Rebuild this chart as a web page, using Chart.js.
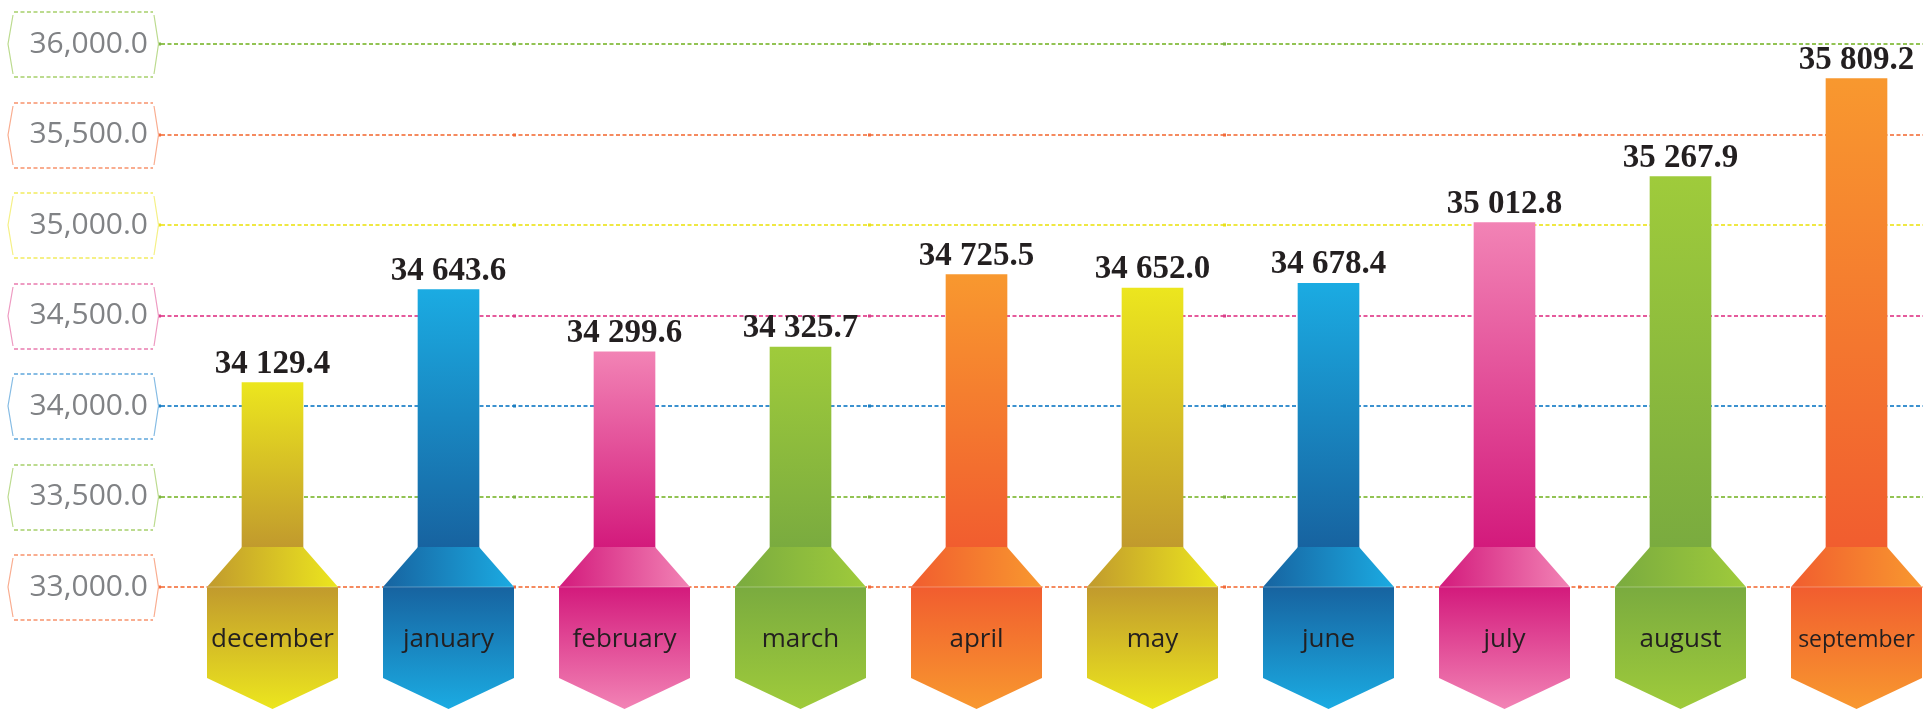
<!DOCTYPE html>
<html>
<head>
<meta charset="utf-8">
<script src="https://cdn.jsdelivr.net/npm/chart.js@4.4.1/dist/chart.umd.min.js"></script>
<style>
html, body { margin: 0; padding: 0; background: #fff; }
</style>
</head>
<body>
<canvas id="chart" width="1923" height="710"></canvas>
<script>
const months = ['december', 'january', 'february', 'march', 'april', 'may', 'june', 'july', 'august', 'september'];
const values = [34129.4, 34643.6, 34299.6, 34325.7, 34725.5, 34652.0, 34678.4, 35012.8, 35267.9, 35809.2];
const yTicks = [33000, 33500, 34000, 34500, 35000, 35500, 36000];
const yTickLabels = ['33,000.0', '33,500.0', '34,000.0', '34,500.0', '35,000.0', '35,500.0', '36,000.0'];

// light / dark for each bar colour
const palette = {
    yellow: ['#ece61e', '#c19a2d'],
    blue: ['#1babe2', '#1763a0'],
    pink: ['#f283b5', '#d31a7c'],
    green: ['#9fcb3b', '#7aab3f'],
    orange: ['#f8982f', '#f15d2f']
}
const barColors = ['yellow', 'blue', 'pink', 'green', 'orange', 'yellow', 'blue', 'pink', 'green', 'orange'];

// gridline, dot, box outline (same order as yTicks)
const gridStyles = [
    ['#f58a5f', '#f26a3a', '#f9ad90'],
    ['#92c353', '#7cb342', '#bcdb8f'],
    ['#3b91cf', '#1a7dc0', '#86bce4'],
    ['#e55a9c', '#d93e8a', '#ee9bc2'],
    ['#efe843', '#e8e01a', '#f5f086'],
    ['#f58a5f', '#f26a3a', '#f9ad90'],
    ['#92c353', '#7cb342', '#bcdb8f']
]

function valueText(v) {
    return Math.floor(v / 1000) + ' ' + (v % 1000).toFixed(1).padStart(5, '0')
}

function stemGradient(c) {
    const chart = c.chart
    if (!chart.chartArea || c.dataIndex === undefined) return '#ccc'
    const ys = chart.scales.y
    const top = ys.getPixelForValue(values[c.dataIndex])
    const bottom = ys.getPixelForValue(yTicks[0]) - 40
    const col = palette[barColors[c.dataIndex]]
    const g = chart.ctx.createLinearGradient(0, top, 0, bottom)
    g.addColorStop(0, col[0])
    g.addColorStop(1, col[1])
    return g
}

const decor = {
    id: 'decor',
    beforeDatasetsDraw(chart) {
        const c = chart.ctx
        const ys = chart.scales.y
        yTicks.forEach((v, i) => {
            const y = Math.round(ys.getPixelForValue(v))
            const st = gridStyles[i]
            c.save()
            c.strokeStyle = st[0]
            c.lineWidth = 2
            c.setLineDash([4, 2.5])
            c.beginPath()
            c.moveTo(161, y)
            c.lineTo(chart.width, y)
            c.stroke()
            c.setLineDash([])
            c.fillStyle = st[1];
            [158, 513, 868, 1223, 1578].forEach(x => c.fillRect(x, y - 1.5, 3, 3))
            // box round the tick label
            c.strokeStyle = st[2]
            c.lineWidth = 2
            c.setLineDash([4, 2.5])
            c.beginPath()
            c.moveTo(14, y - 32); c.lineTo(153, y - 32)
            c.moveTo(14, y + 33); c.lineTo(153, y + 33)
            c.stroke()
            c.setLineDash([])
            c.lineWidth = 1.2
            c.beginPath()
            c.moveTo(13, y - 29); c.lineTo(8, y); c.lineTo(13, y + 30)
            c.moveTo(154, y - 29); c.lineTo(158.5, y); c.lineTo(154, y + 30)
            c.stroke()
            c.restore()
        })
    },
    afterDatasetsDraw(chart) {
        const c = chart.ctx
        const ys = chart.scales.y
        const base = ys.getPixelForValue(yTicks[0])
        const meta = chart.getDatasetMeta(0)
        const hw = 65.5, sw = 30.5
        meta.data.forEach((el, i) => {
            const x = el.x
            const col = palette[barColors[i]]
            c.save()
            // shoulder
            let g = c.createLinearGradient(x - hw, 0, x + hw, 0)
            g.addColorStop(0, col[1])
            g.addColorStop(1, col[0])
            c.fillStyle = g
            c.beginPath()
            c.moveTo(x - sw, base - 40)
            c.lineTo(x + sw, base - 40)
            c.lineTo(x + hw, base)
            c.lineTo(x - hw, base)
            c.closePath()
            c.fill()
            // label plate
            g = c.createLinearGradient(0, base, 0, base + 122)
            g.addColorStop(0, col[1])
            g.addColorStop(1, col[0])
            c.fillStyle = g
            c.beginPath()
            c.moveTo(x - hw, base)
            c.lineTo(x + hw, base)
            c.lineTo(x + hw, base + 91)
            c.lineTo(x, base + 122)
            c.lineTo(x - hw, base + 91)
            c.closePath()
            c.fill()
            c.fillStyle = 'rgba(255,255,255,0.3)'
            c.fillRect(x - hw, base - 0.5, hw * 2, 1)
            // month
            c.fillStyle = '#231f20'
            c.textAlign = 'center'
            c.textBaseline = 'alphabetic'
            c.font = (i === 9 ? 23 : 26) + 'px "Open Sans"'
            c.fillText(months[i], x, base + 60)
            // value
            c.font = 'bold 33px "Liberation Serif"'
            c.fillText(valueText(values[i]), x, el.y - 10)
            c.restore()
        })
    }
}

const chart = new Chart(document.getElementById('chart'), {
    type: 'bar',
    data: {
        labels: months,
        datasets: [{
            data: values,
            base: 33000,
            barThickness: 61,
            borderWidth: 0,
            clip: false,
            backgroundColor: stemGradient
        }]
    },
    options: {
        responsive: false,
        animation: false,
        layout: { padding: { top: 44, right: 66.5, bottom: 123, left: 0 } },
        plugins: { legend: { display: false }, tooltip: { enabled: false } },
        scales: {
            x: { display: false, offset: false },
            y: {
                min: 33000,
                max: 36000,
                afterFit: s => {
                    s.width = 272.5
                    s.paddingTop = 0
                    s.paddingBottom = 0
                },
                grid: { display: false, drawTicks: false },
                border: { display: false },
                ticks: {
                    stepSize: 500,
                    padding: 124.5,
                    color: '#808285',
                    font: { family: 'Open Sans', size: 30 },
                    callback: v => yTickLabels[yTicks.indexOf(v)]
                }
            }
        }
    },
    plugins: [decor]
});
</script>
</body>
</html>
